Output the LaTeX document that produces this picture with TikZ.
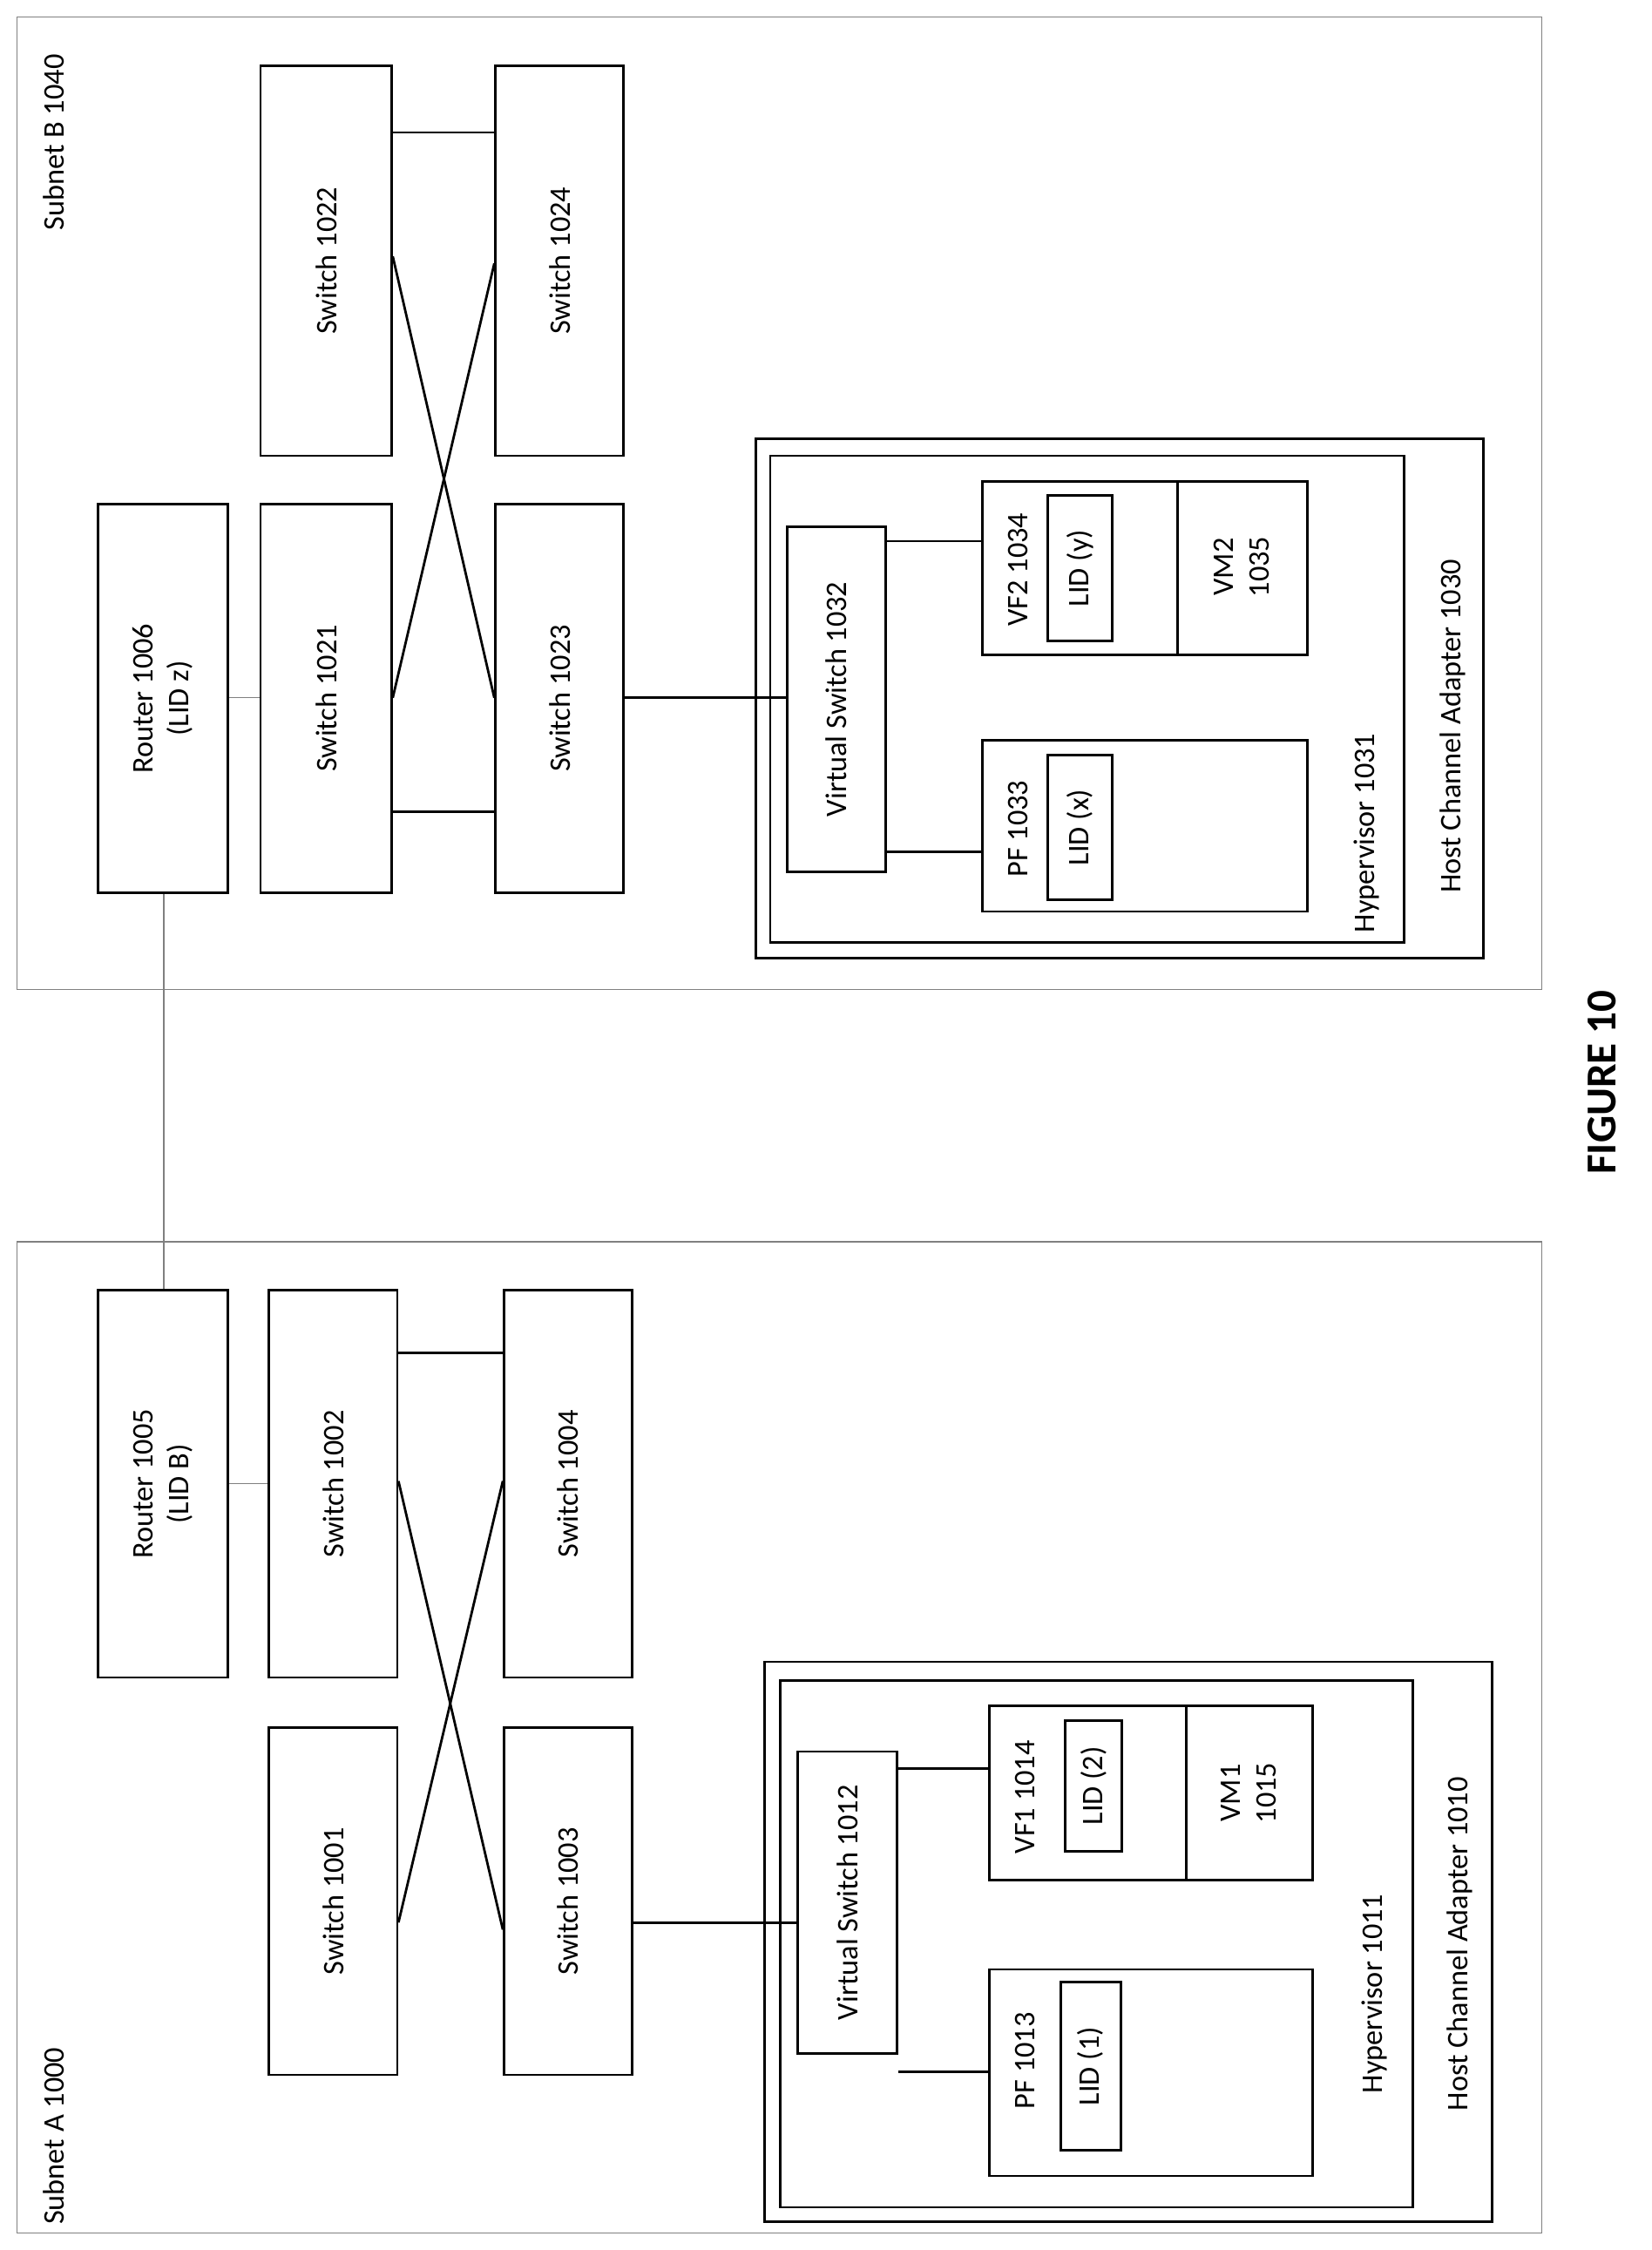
\documentclass[tikz,border=0pt]{standalone}
\usepackage{fontspec}
\setmainfont{Carlito}
\usetikzlibrary{fit}
\begin{document}
\begin{tikzpicture}[x=1pt,y=-1pt,
  box/.style={draw,line width=1.7pt,inner sep=0pt},
  area/.style={draw=gray,line width=0.7pt,inner sep=0pt},
  lbl/.style={rotate=90,font=\fontsize{21}{25}\selectfont,align=center},
  wire/.style={line width=1.7pt},
  thin/.style={draw=gray,line width=0.7pt}]
\useasboundingbox (0,0) rectangle (1160,1580);
% Subnet A
\node[area,fit={(12,872)(1083,1568)}] (subA) {};
\node[lbl] at (38,1500) {Subnet A 1000};
\node[box,fit={(69,906)(160,1178)}] (r1005) {};
\node[lbl] at (r1005) {Router 1005\\(LID B)};
\node[box,fit={(189,906)(279,1178)}] (s1002) {};
\node[lbl] at (s1002) {Switch 1002};
\node[box,fit={(354,906)(444,1178)}] (s1004) {};
\node[lbl] at (s1004) {Switch 1004};
\node[box,fit={(189,1213)(279,1457)}] (s1001) {};
\node[lbl] at (s1001) {Switch 1001};
\node[box,fit={(354,1213)(444,1457)}] (s1003) {};
\node[lbl] at (s1003) {Switch 1003};
\draw[wire] (s1002.east |- 0,950) -- (s1004.west |- 0,950);
\draw[wire] (s1002.east |- 0,1040) -- (s1003.west |- 0,1355);
\draw[wire] (s1004.west |- 0,1040) -- (s1001.east |- 0,1350);
\draw[thin] (r1005.east |- 0,1042) -- (s1002.west |- 0,1042);
\node[box,fit={(537,1167)(1048,1560)}] (hca1010) {};
\node[box,fit={(548,1180)(992,1550)}] (hyp1011) {};
\node[lbl] at (965,1400) {Hypervisor 1011};
\node[lbl] at (1025,1365) {Host Channel Adapter 1010};
\node[box,fit={(560,1230)(630,1442)}] (vs1012) {};
\node[lbl] at (vs1012) {Virtual Switch 1012};
\node[box,fit={(695,1198)(922,1320)}] (vf1014) {};
\draw[wire] (833,1198) -- (833,1320);
\node[lbl] at (720,1262) {VF1 1014};
\node[box,fit={(748,1208)(788,1300)}] (lid2) {};
\node[lbl] at (lid2) {LID (2)};
\node[lbl] at (877,1259) {VM1\\1015};
\node[box,fit={(695,1383)(922,1528)}] (pf1013) {};
\node[lbl] at (720,1447) {PF 1013};
\node[box,fit={(745,1392)(787,1510)}] (lid1) {};
\node[lbl] at (lid1) {LID (1)};
\draw[wire] (s1003.east |- 0,1350) -- (vs1012.west |- 0,1350);
\draw[wire] (vs1012.east |- 0,1242) -- (vf1014.west |- 0,1242);
\draw[wire] (vs1012.east |- 0,1455) -- (pf1013.west |- 0,1455);
% Subnet B
\node[area,fit={(12,12)(1083,695)}] (subB) {};
\node[lbl] at (38,100) {Subnet B 1040};
\node[box,fit={(69,354)(160,627)}] (r1006) {};
\node[lbl] at (r1006) {Router 1006\\(LID z)};
\node[box,fit={(183,354)(275,627)}] (s1021) {};
\node[lbl] at (s1021) {Switch 1021};
\node[box,fit={(348,354)(438,627)}] (s1023) {};
\node[lbl] at (s1023) {Switch 1023};
\node[box,fit={(183,46)(275,320)}] (s1022) {};
\node[lbl] at (s1022) {Switch 1022};
\node[box,fit={(348,46)(438,320)}] (s1024) {};
\node[lbl] at (s1024) {Switch 1024};
\draw[wire] (s1022.east |- 0,93) -- (s1024.west |- 0,93);
\draw[wire] (s1021.east |- 0,570) -- (s1023.west |- 0,570);
\draw[wire] (s1022.east |- 0,180) -- (s1023.west |- 0,490);
\draw[wire] (s1024.west |- 0,185) -- (s1021.east |- 0,490);
\draw[thin] (r1006.east |- 0,490) -- (s1021.west |- 0,490);
\draw[thin] (r1005.north -| 115,0) -- (r1006.south -| 115,0);
\node[box,fit={(531,308)(1042,673)}] (hca1030) {};
\node[box,fit={(541,320)(986,662)}] (hyp1031) {};
\node[lbl] at (960,585) {Hypervisor 1031};
\node[lbl] at (1020,510) {Host Channel Adapter 1030};
\node[box,fit={(553,370)(622,612)}] (vs1032) {};
\node[lbl] at (vs1032) {Virtual Switch 1032};
\node[box,fit={(690,338)(918,460)}] (vf1034) {};
\draw[wire] (827,338) -- (827,460);
\node[lbl] at (715,400) {VF2 1034};
\node[box,fit={(736,348)(781,450)}] (lidy) {};
\node[lbl] at (lidy) {LID (y)};
\node[lbl] at (872,398) {VM2\\1035};
\node[box,fit={(690,520)(918,640)}] (pf1033) {};
\node[lbl] at (715,582) {PF 1033};
\node[box,fit={(736,530)(781,632)}] (lidx) {};
\node[lbl] at (lidx) {LID (x)};
\draw[wire] (s1023.east |- 0,490) -- (vs1032.west |- 0,490);
\draw[wire] (vs1032.east |- 0,380) -- (vf1034.west |- 0,380);
\draw[wire] (vs1032.east |- 0,598) -- (pf1033.west |- 0,598);
\node[lbl,font=\fontsize{30}{36}\selectfont\bfseries] (fig) at (1125,760) {FIGURE 10};
\end{tikzpicture}
\end{document}
